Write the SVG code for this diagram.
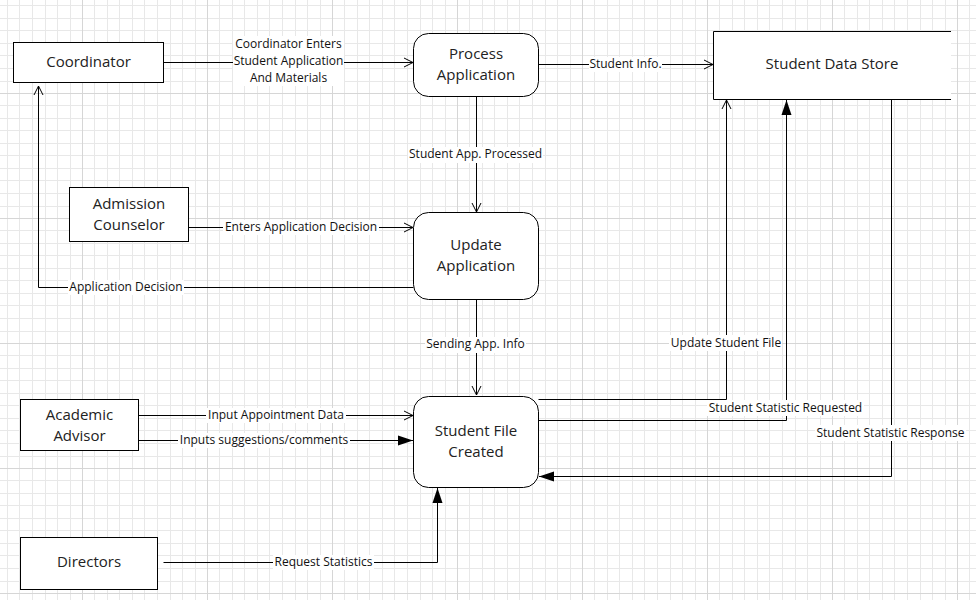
<svg xmlns="http://www.w3.org/2000/svg" width="976" height="600" viewBox="0 0 976 600">
<style>
.node{fill:#fff;stroke:#000;stroke-width:1}
.nt{font-family:"Open Sans","Noto Sans","DejaVu Sans",sans-serif;font-size:15px;fill:#222;text-anchor:middle}
.lt{font-family:"Open Sans","Noto Sans","DejaVu Sans",sans-serif;font-size:12px;fill:#111;text-anchor:middle}
.ln{fill:none;stroke:#000;stroke-width:1}
.bg{fill:#fff}
.mi{stroke:#e8e8e8;stroke-width:1}
.ma{stroke:#d6d6d6;stroke-width:1}
</style>
<defs>
<pattern id="grid" patternUnits="userSpaceOnUse" x="-43" y="-32" width="125" height="125">
<g class="mi">
<path d="M12.5,0V125M25.5,0V125M37.5,0V125M50.5,0V125M62.5,0V125M75.5,0V125M88.5,0V125M100.5,0V125M113.5,0V125"/>
<path d="M0,12.5H125M0,25.5H125M0,37.5H125M0,50.5H125M0,62.5H125M0,75.5H125M0,87.5H125M0,100.5H125M0,113.5H125"/>
</g>
<path class="ma" d="M0.5,0V125M0,0.5H125"/>
</pattern>
<marker id="open" viewBox="-10 -6 12 12" markerWidth="12" markerHeight="12" refX="0" refY="0" orient="auto" markerUnits="userSpaceOnUse">
<path d="M-9,-4.5 L0,0 L-9,4.5" fill="none" stroke="#000" stroke-width="1"/>
</marker>
<marker id="filled" viewBox="-15 -6 16 12" markerWidth="16" markerHeight="12" refX="0" refY="0" orient="auto" markerUnits="userSpaceOnUse">
<path d="M-15,-5 L0,0 L-15,5 Z" fill="#000"/>
</marker>
</defs>
<rect width="976" height="600" fill="#fff"/>
<rect width="976" height="600" fill="url(#grid)"/>

<g id="connectors">
<path class="ln" d="M163.5,62.5H413" marker-end="url(#open)"/>
<path class="ln" d="M538.5,64.5H713" marker-end="url(#open)"/>
<path class="ln" d="M476.5,96.5V212" marker-end="url(#open)"/>
<path class="ln" d="M188.5,227.5H413" marker-end="url(#open)"/>
<path class="ln" d="M413.5,287.5H38.5V86" marker-end="url(#open)"/>
<path class="ln" d="M476.5,299.5V395" marker-end="url(#open)"/>
<path class="ln" d="M138.5,415.5H413" marker-end="url(#open)"/>
<path class="ln" d="M138.5,440.5H413" marker-end="url(#filled)"/>
<path class="ln" d="M163.5,562.5H437.5V488" marker-end="url(#filled)"/>
<path class="ln" d="M538.5,399.5H726.5V100" marker-end="url(#open)"/>
<path class="ln" d="M538.5,420.5H786.5V100" marker-end="url(#filled)"/>
<path class="ln" d="M891.5,99.5V476.5H539" marker-end="url(#filled)"/>

<g id="labels">
<rect class="bg" x="233" y="36" width="111" height="50"/>
<text class="lt" x="288.5" y="48">Coordinator Enters</text>
<text class="lt" x="288.5" y="65">Student Application</text>
<text class="lt" x="288.5" y="82">And Materials</text>

<rect class="bg" x="589" y="57" width="73" height="15"/>
<text class="lt" x="625.5" y="68">Student Info.</text>

<rect class="bg" x="408" y="147" width="135" height="16"/>
<text class="lt" x="475.5" y="158">Student App. Processed</text>

<rect class="bg" x="223" y="220" width="156" height="15"/>
<text class="lt" x="301" y="231">Enters Application Decision</text>

<rect class="bg" x="68" y="280" width="116" height="15"/>
<text class="lt" x="126" y="291">Application Decision</text>

<rect class="bg" x="425" y="337" width="101" height="16"/>
<text class="lt" x="475.5" y="348">Sending App. Info</text>

<rect class="bg" x="669" y="335" width="113" height="16"/>
<text class="lt" x="726" y="346.5">Update Student File</text>

<rect class="bg" x="707" y="400" width="157" height="16"/>
<text class="lt" x="785.5" y="411.5">Student Statistic Requested</text>

<rect class="bg" x="815" y="425" width="151" height="16"/>
<text class="lt" x="890.5" y="436.5">Student Statistic Response</text>

<rect class="bg" x="206" y="408" width="140" height="15"/>
<text class="lt" x="276" y="419">Input Appointment Data</text>

<rect class="bg" x="178" y="433" width="172" height="15"/>
<text class="lt" x="264" y="444">Inputs suggestions/comments</text>

<rect class="bg" x="273" y="555" width="101" height="15"/>
<text class="lt" x="323.5" y="566">Request Statistics</text>
</g>
</g>

<g id="coordinator">
<rect class="node" x="13.5" y="42.5" width="150" height="40"/>
<text class="nt" x="88.5" y="67">Coordinator</text>
</g>
<g id="process-application">
<rect class="node" x="413.5" y="33.5" width="125" height="63" rx="15"/>
<text class="nt" x="476" y="58.5">Process</text>
<text class="nt" x="476" y="80">Application</text>
</g>
<g id="student-data-store">
<path class="node" d="M951,31.5H713.5V99.5H951" fill="#fff"/>
<text class="nt" x="832" y="69">Student Data Store</text>
</g>
<g id="admission-counselor">
<rect class="node" x="69.5" y="187.5" width="119" height="54"/>
<text class="nt" x="129" y="209">Admission</text>
<text class="nt" x="129" y="230">Counselor</text>
</g>
<g id="update-application">
<rect class="node" x="413.5" y="212.5" width="125" height="87" rx="15"/>
<text class="nt" x="476" y="250">Update</text>
<text class="nt" x="476" y="271">Application</text>
</g>
<g id="academic-advisor">
<rect class="node" x="20.5" y="399.5" width="118" height="51"/>
<text class="nt" x="79.5" y="420">Academic</text>
<text class="nt" x="79.5" y="441">Advisor</text>
</g>
<g id="student-file-created">
<rect class="node" x="413.5" y="396.5" width="125" height="91" rx="15"/>
<text class="nt" x="476" y="436">Student File</text>
<text class="nt" x="476" y="456.5">Created</text>
</g>
<g id="directors">
<rect class="node" x="20.5" y="537.5" width="137" height="52"/>
<text class="nt" x="89" y="567">Directors</text>
</g>
</svg>
